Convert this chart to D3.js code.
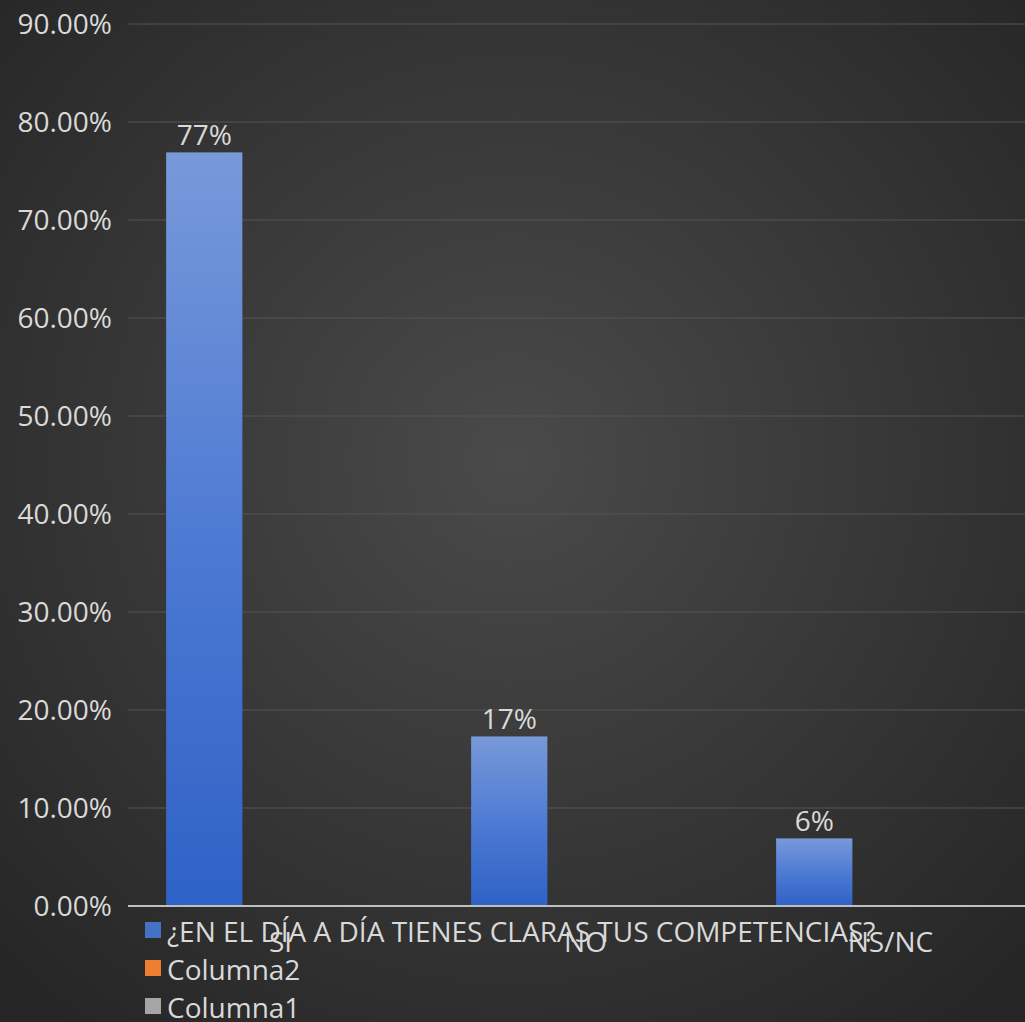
<!DOCTYPE html>
<html>
<head>
<meta charset="utf-8">
<script src="https://cdn.jsdelivr.net/npm/d3@7"></script>
<style>
  html, body { margin: 0; padding: 0; background: #2b2b2b; overflow: hidden; }
  svg { display: block; }
  text { font-family: "Open Sans", "Noto Sans", sans-serif; fill: #d9d9d9; }
</style>
</head>
<body>
<div id="chart"></div>
<script>
  const categories = ['SI', 'NO', 'NS/NC']
  const seriesNames = ['¿EN EL DÍA A DÍA TIENES CLARAS TUS COMPETENCIAS?', 'Columna2', 'Columna1']
  const seriesColors = ['#4472c4', '#ed7d31', '#a5a5a5']
  const values = [0.769, 0.173, 0.069]
  const valueLabels = ['77%', '17%', '6%']
  const yTicks = [0, 0.1, 0.2, 0.3, 0.4, 0.5, 0.6, 0.7, 0.8, 0.9]

  const W = 1025, H = 1022
  // plot area runs off the right edge a little, like the original picture
  const margin = { top: 24, left: 128, right: -18, bottom: 116 }
  const plotW = W - margin.left - margin.right
  const plotH = H - margin.top - margin.bottom

  const svg = d3.select('#chart').append('svg')
    .attr('width', W)
    .attr('height', H)

  const defs = svg.append('defs')
  const bg = defs.append('radialGradient').attr('id', 'bg')
    .attr('cx', '50%').attr('cy', '45%').attr('r', '70%')
  bg.append('stop').attr('offset', '0%').attr('stop-color', '#4a4a4a')
  bg.append('stop').attr('offset', '100%').attr('stop-color', '#262626')

  const barGrad = defs.append('linearGradient').attr('id', 'bar')
    .attr('x1', 0).attr('y1', 0).attr('x2', 0).attr('y2', 1)
  barGrad.append('stop').attr('offset', '0%').attr('stop-color', '#7899da')
  barGrad.append('stop').attr('offset', '55%').attr('stop-color', '#4a78d2')
  barGrad.append('stop').attr('offset', '100%').attr('stop-color', '#2f62c6')

  svg.append('rect').attr('width', W).attr('height', H).attr('fill', 'url(#bg)')

  const x = d3.scaleBand()
    .domain(categories)
    .range([margin.left, margin.left + plotW])

  // three series slots per category (two of them are empty)
  const xSub = d3.scaleBand()
    .domain(seriesNames)
    .range([0, x.bandwidth()])
    .paddingOuter(0.5)

  const y = d3.scaleLinear()
    .domain([0, 0.9])
    .range([margin.top + plotH, margin.top])

  // gridlines
  svg.append('g').selectAll('line')
    .data(yTicks.filter(d => d > 0))
    .join('line')
    .attr('x1', margin.left).attr('x2', W)
    .attr('y1', d => y(d)).attr('y2', d => y(d))
    .attr('stroke', '#555').attr('stroke-width', 1)

  // y tick labels
  const fmt = d3.format('.2%')
  svg.append('g').selectAll('text')
    .data(yTicks)
    .join('text')
    .attr('x', 112)
    .attr('y', d => y(d) + 10)
    .attr('text-anchor', 'end')
    .style('font-size', '28px')
    .text(d => fmt(d))

  // bars
  svg.append('g').selectAll('rect')
    .data(values)
    .join('rect')
    .attr('x', (d, i) => x(categories[i]) + xSub(seriesNames[0]))
    .attr('width', xSub.bandwidth())
    .attr('y', d => y(d))
    .attr('height', d => y(0) - y(d))
    .attr('fill', 'url(#bar)')

  // data labels
  svg.append('g').selectAll('text')
    .data(values)
    .join('text')
    .attr('x', (d, i) => x(categories[i]) + xSub(seriesNames[0]) + xSub.bandwidth() / 2)
    .attr('y', d => y(d) - 7)
    .attr('text-anchor', 'middle')
    .style('font-size', '28px')
    .text((d, i) => valueLabels[i])

  // x axis line
  svg.append('line')
    .attr('x1', margin.left).attr('x2', W)
    .attr('y1', y(0)).attr('y2', y(0))
    .attr('stroke', '#bfbfbf').attr('stroke-width', 2)

  // category labels
  svg.append('g').selectAll('text')
    .data(categories)
    .join('text')
    .attr('x', d => x(d) + x.bandwidth() / 2)
    .attr('y', y(0) + 46)
    .attr('text-anchor', 'middle')
    .style('font-size', '28px')
    .text(d => d)

  // legend (overlaps the axis labels, as in the original)
  const legend = svg.append('g').selectAll('g')
    .data(seriesNames)
    .join('g')
    .attr('transform', (d, i) => `translate(145, ${942 + i * 38})`)
  legend.append('rect')
    .attr('x', 0).attr('y', -20)
    .attr('width', 16).attr('height', 16)
    .attr('fill', (d, i) => seriesColors[i])
  legend.append('text')
    .attr('x', 22).attr('y', 0)
    .style('font-size', '28px')
    .text(d => d)
</script>
</body>
</html>
